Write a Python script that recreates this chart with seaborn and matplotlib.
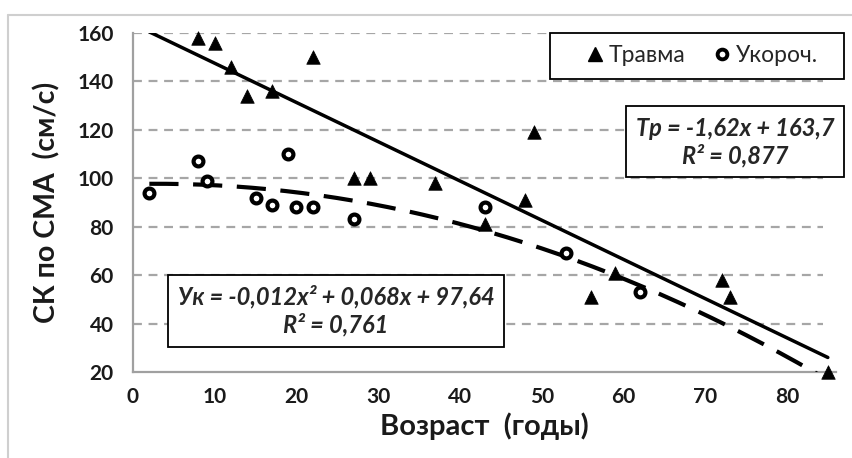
import numpy as np
import pandas as pd
import matplotlib
matplotlib.use("Agg")
import matplotlib.pyplot as plt
import seaborn as sns
from matplotlib.lines import Line2D
from matplotlib.patches import Rectangle

# ---- data ----
trauma_age = [8, 10, 12, 14, 17, 22, 27, 29, 37, 43, 48, 49, 56, 59, 72, 73, 85]
trauma_v = [158, 156, 146, 134, 136, 150, 100, 100, 98, 81, 91, 119, 51, 61, 58, 51, 20]
short_age = [2, 8, 9, 15, 17, 19, 20, 22, 27, 43, 53, 62]
short_v = [94, 107, 99, 92, 89, 110, 88, 88, 83, 88, 69, 53]
lin_coef = [-1.62, 163.7]
quad_coef = [-0.012, 0.068, 97.64]
x_ticks = [0, 10, 20, 30, 40, 50, 60, 70, 80]
y_ticks = [20, 40, 60, 80, 100, 120, 140, 160]
legend_labels = ["Травма", "Укороч."]
eq_lin = "Тр = -1,62x + 163,7\nR² = 0,877"
eq_quad = "Ук = -0,012x² + 0,068x + 97,64\nR² = 0,761"
x_label = "Возраст  (годы)"
y_label = "СК по СМА  (см/с)"

sns.set_theme(style="white")
plt.rcParams["font.family"] = ["Lato", "DejaVu Sans"]

W, H = 853, 458
fig = plt.figure(figsize=(8.53, 4.58), dpi=100)
ax = fig.add_axes([133/W, 1-372/H, (836-133)/W, (372-33)/H])

df_t = pd.DataFrame({"x": trauma_age, "y": trauma_v})
df_s = pd.DataFrame({"x": short_age, "y": short_v})

xl = np.linspace(2, 85, 200)
df_lin = pd.DataFrame({"x": xl, "y": np.polyval(lin_coef, xl)})
df_quad = pd.DataFrame({"x": xl, "y": np.polyval(quad_coef, xl)})

sns.lineplot(data=df_lin, x="x", y="y", ax=ax, color="black", lw=2.5, zorder=3)
sns.lineplot(data=df_quad, x="x", y="y", ax=ax, color="black", lw=3.0, zorder=3,
             dashes=False)
ax.lines[-1].set_dashes([7, 3.5])

sns.scatterplot(data=df_t, x="x", y="y", ax=ax, marker="^", s=95, color="black",
                edgecolor="black", linewidth=0.5, zorder=4, clip_on=False)
sns.scatterplot(data=df_s, x="x", y="y", ax=ax, marker="o", s=50, facecolor="white",
                edgecolor="black", linewidth=3.0, zorder=4)

ax.set_xlim(0, 86)
ax.set_ylim(20, 160)
ax.set_xticks(x_ticks)
ax.set_yticks(y_ticks)
for yv in y_ticks[1:]:
    ax.axhline(yv, xmax=(823-133)/(836-133), color="#a6a6a6", lw=1.6,
               ls=(0, (4, 3)), zorder=1)

for s in ["top", "right"]:
    ax.spines[s].set_visible(False)
for s in ["left", "bottom"]:
    ax.spines[s].set_color("#a0a0a0")
    ax.spines[s].set_linewidth(1.6)

ax.tick_params(axis="x", direction="in", length=5, width=1.6, color="#a0a0a0",
               labelsize=15, pad=11)
ax.tick_params(axis="y", length=0, labelsize=15, pad=14)
for lab in ax.get_xticklabels() + ax.get_yticklabels():
    lab.set_fontweight("bold")
    lab.set_color("#1a1a1a")

ax.set_xlabel(x_label, fontsize=21, fontweight="bold", color="#1a1a1a", labelpad=4)
ax.set_ylabel(y_label, fontsize=20.5, fontweight="bold", color="#1a1a1a", labelpad=12)

def frame(x0, y0, x1, y1):
    r = Rectangle((x0/W, 1-y1/H), (x1-x0)/W, (y1-y0)/H, transform=fig.transFigure,
                  facecolor="white", edgecolor="black", lw=1.3, zorder=5)
    fig.add_artist(r)

# legend
frame(550, 33, 844, 79)
handles = [Line2D([], [], marker="^", color="black", ls="none", markersize=9.5),
           Line2D([], [], marker="o", markerfacecolor="white", markeredgecolor="black",
                  markeredgewidth=2.8, ls="none", markersize=7)]
leg = fig.legend(handles, legend_labels, ncol=2, loc="center",
                 bbox_to_anchor=(701/W, 1-56/H), fontsize=16.5, frameon=False,
                 handletextpad=0.1, columnspacing=1.1, handlelength=1.0)
leg.set_zorder(6)

# equation boxes
frame(626, 106, 844, 177)
fig.text(735/W, 1-142/H, eq_lin, ha="center", va="center", fontsize=17,
         fontweight="bold", style="italic", linespacing=1.22, zorder=6)
frame(168, 275, 504, 347)
fig.text(336/W, 1-311/H, eq_quad, ha="center", va="center", fontsize=17,
         fontweight="bold", style="italic", linespacing=1.22, zorder=6)

# outer chart frame
fig.add_artist(Line2D([8/W, 1], [1-15/H, 1-15/H], color="#cfcfcf", lw=1.5,
                      transform=fig.transFigure))
fig.add_artist(Line2D([8/W, 8/W], [0, 1-15/H], color="#cfcfcf", lw=1.5,
                      transform=fig.transFigure))

fig.savefig("out.png", dpi=100)
